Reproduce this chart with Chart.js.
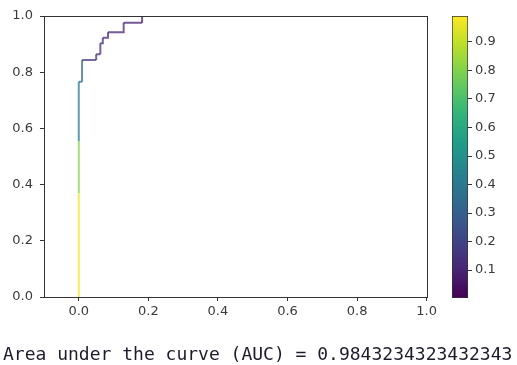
<!DOCTYPE html>
<html>
<head>
<meta charset="utf-8">
<script src="https://cdn.jsdelivr.net/npm/chart.js@4/dist/chart.umd.min.js"></script>
<style>
  body{margin:0;background:#fff;width:517px;height:365px;overflow:hidden;position:relative;}
  #rocChart{position:absolute;left:0;top:0;}
  #barChart{position:absolute;left:440px;top:0;}
  #auc{position:absolute;left:3px;top:345px;font-family:'DejaVu Sans Mono',monospace;font-size:18px;line-height:18px;color:#1c1c2a;white-space:pre;}
</style>
</head>
<body>
<canvas id="rocChart" width="440" height="320"></canvas>
<canvas id="barChart" width="77" height="365"></canvas>
<div id="auc">Area under the curve (AUC) = 0.9843234323432343</div>
<script>
/* =========================
   DATA KURVA ROC
========================= */
const fpr = [0, 0, 0, 0, 0.0094, 0.0094, 0.05, 0.05, 0.062, 0.062, 0.069, 0.069, 0.084, 0.084, 0.129, 0.129, 0.182, 0.182, 1.0];
const tpr = [0, 0.37, 0.555, 0.766, 0.766, 0.843, 0.843, 0.864, 0.864, 0.903, 0.903, 0.923, 0.923, 0.942, 0.942, 0.976, 0.976, 1.0, 1.0];
// threshold untuk tiap segmen (mulai dari titik i)
const thresholds = [0.97, 0.8, 0.42, 0.38, 0.35, 0.17, 0.15, 0.14, 0.13, 0.12, 0.12, 0.11, 0.11, 0.1, 0.1, 0.09, 0.08, 0.06];

const xTicks = [0.0, 0.2, 0.4, 0.6, 0.8, 1.0];
const yTicks = [0.0, 0.2, 0.4, 0.6, 0.8, 1.0];
const cbarTicks = [0.1, 0.2, 0.3, 0.4, 0.5, 0.6, 0.7, 0.8, 0.9];
const cbarRange = [0.002, 0.991];

/* =========================
   COLORMAP VIRIDIS
========================= */
const viridisStops = ['#440154','#482878','#3e4989','#31688e','#26828e','#1f9e89','#35b779','#6ece58','#b5de2b','#fde725'];

function hexRgb(h){
  return [parseInt(h.slice(1,3),16), parseInt(h.slice(3,5),16), parseInt(h.slice(5,7),16)];
}

function viridis(t, alpha){
  t = Math.min(1, Math.max(0, t));
  const pos = t * (viridisStops.length - 1);
  const i = Math.min(Math.floor(pos), viridisStops.length - 2);
  const f = pos - i;
  const a = hexRgb(viridisStops[i]), b = hexRgb(viridisStops[i+1]);
  const c = a.map((v,k)=> Math.round(v + (b[k]-v)*f));
  return `rgba(${c[0]},${c[1]},${c[2]},${alpha === undefined ? 1 : alpha})`;
}

function norm(v){
  return (v - cbarRange[0]) / (cbarRange[1] - cbarRange[0]);
}

const tickFont = {family:'DejaVu Sans', size:13};
const tickColor = '#3a3a3a';

/* =========================
   PLUGIN BINGKAI (spines)
========================= */
const frame = {
  id:'frame',
  afterDatasetsDraw(chart){
    const {ctx, chartArea:a} = chart;
    ctx.save();
    ctx.strokeStyle = '#333';
    ctx.lineWidth = 1;
    ctx.strokeRect(Math.round(a.left)+0.5, Math.round(a.top)+0.5, Math.round(a.right-a.left), Math.round(a.bottom-a.top));
    ctx.restore();
  }
};

/* =========================
   CHART ROC
========================= */
new Chart(document.getElementById('rocChart'), {
  type:'scatter',
  data:{
    datasets:[{
      data: fpr.map((x,i)=>({x:x, y:tpr[i]})),
      showLine:true,
      pointRadius:0,
      borderWidth:2,
      borderColor: viridis(norm(thresholds[0]), 0.75),
      segment:{
        borderColor: c => viridis(norm(thresholds[c.p0DataIndex]), 0.75)
      }
    }]
  },
  options:{
    responsive:false,
    animation:false,
    devicePixelRatio:1,
    layout:{padding:{top:16, right:12, left:0, bottom:0}},
    plugins:{legend:{display:false}, tooltip:{enabled:false}},
    scales:{
      x:{
        type:'linear',
        min:-0.1, max:1.0,
        afterBuildTicks: s => { s.ticks = xTicks.map(v=>({value:v})); },
        afterFit: s => { s.height = 23; },
        grid:{drawOnChartArea:false, drawTicks:true, tickLength:4, color:'#333'},
        border:{display:false},
        ticks:{font:tickFont, color:tickColor, padding:3, maxRotation:0, callback:v=>v.toFixed(1)}
      },
      y:{
        type:'linear',
        min:0, max:1.0,
        afterBuildTicks: s => { s.ticks = yTicks.map(v=>({value:v})); },
        afterFit: s => { s.width = 44; },
        grid:{drawOnChartArea:false, drawTicks:true, tickLength:4, color:'#333'},
        border:{display:false},
        ticks:{font:tickFont, color:tickColor, padding:7, callback:v=>v.toFixed(1)}
      }
    }
  },
  plugins:[frame]
});

/* =========================
   COLORBAR
========================= */
new Chart(document.getElementById('barChart'), {
  type:'bar',
  data:{
    labels:[''],
    datasets:[{
      data:[cbarRange],
      barPercentage:1,
      categoryPercentage:1,
      borderWidth:1,
      borderColor:'#333',
      borderSkipped:false,
      backgroundColor: c => {
        const area = c.chart.chartArea;
        if(!area) return '#888';
        const g = c.chart.ctx.createLinearGradient(0, area.bottom, 0, area.top);
        for(let k=0;k<=20;k++) g.addColorStop(k/20, viridis(k/20));
        return g;
      }
    }]
  },
  options:{
    responsive:false,
    animation:false,
    devicePixelRatio:1,
    layout:{padding:{top:16, left:12, right:0, bottom:67}},
    plugins:{legend:{display:false}, tooltip:{enabled:false}},
    scales:{
      x:{display:false},
      y:{
        position:'right',
        min:cbarRange[0], max:cbarRange[1],
        afterBuildTicks: s => { s.ticks = cbarTicks.map(v=>({value:v})); },
        afterFit: s => { s.width = 49; },
        grid:{drawOnChartArea:false, drawTicks:true, tickLength:4, color:'#333'},
        border:{display:false},
        ticks:{font:tickFont, color:tickColor, padding:3, callback:v=>v.toFixed(1)}
      }
    }
  }
});
</script>
</body>
</html>
